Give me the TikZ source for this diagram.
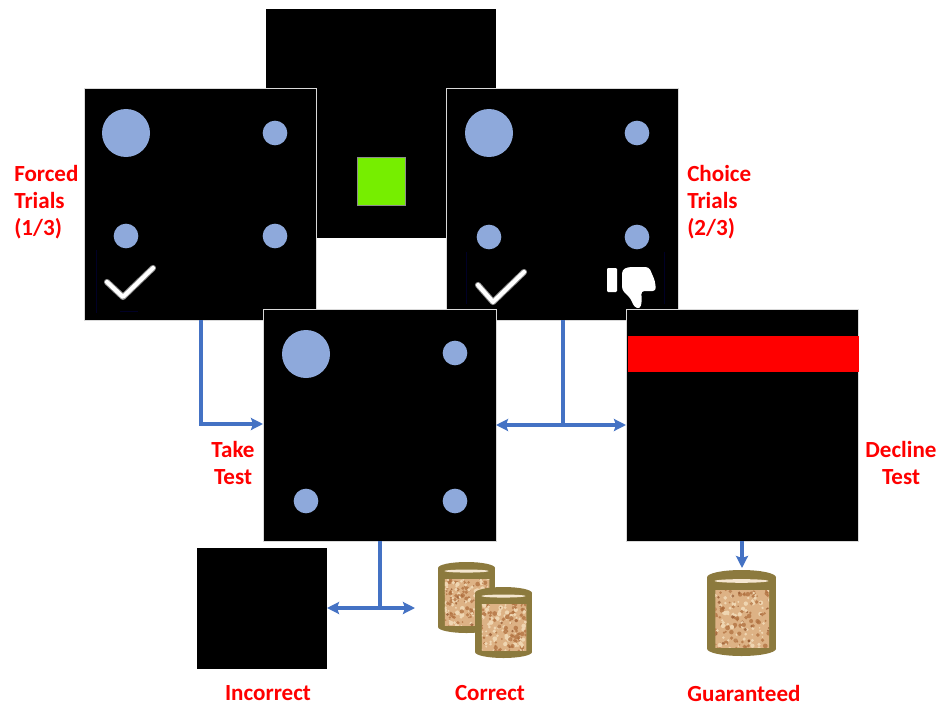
\documentclass[tikz,border=0pt]{standalone}
\usepackage{fontspec}
\setmainfont{Carlito}
\usetikzlibrary{arrows.meta}
\definecolor{dotblue}{HTML}{8EA9DB}
\definecolor{flowblue}{HTML}{4472C4}
\definecolor{lime}{HTML}{76EE00}
\definecolor{olive}{HTML}{8C7A3E}
\definecolor{corkA}{HTML}{DDB285}
\definecolor{corkB}{HTML}{B0703F}
\definecolor{corkC}{HTML}{EFD6B2}
\definecolor{corkD}{HTML}{8E4F28}
\newcommand{\corkpot}[4]{% left, top, width, height
  \pgfmathsetmacro{\potL}{#1}\pgfmathsetmacro{\potT}{#2}\pgfmathsetmacro{\potW}{#3}\pgfmathsetmacro{\potH}{#4}
  \pgfmathsetmacro{\potX}{\potL+\potW/2}\pgfmathsetmacro{\potB}{\potT+\potH}\pgfmathsetmacro{\potR}{\potL+\potW}
  \pgfmathsetmacro{\potRy}{0.085*\potH}
  \pgfmathsetmacro{\potRx}{\potW/2}
  \fill[olive] (\potL,\potT+\potRy) rectangle (\potR,\potB-\potRy);
  \fill[olive] (\potX,\potT+\potRy) ellipse[x radius=\potRx,y radius=\potRy];
  \fill[olive] (\potX,\potB-\potRy) ellipse[x radius=\potRx,y radius=\potRy];
  \fill[corkC!60!white] (\potX,\potT+1.5*\potRy) ellipse[x radius=0.39*\potW,y radius=0.25*\potRy];
  \begin{scope}
    \clip (\potL+0.12*\potW,\potT+0.24*\potH) rectangle (\potR-0.10*\potW,\potB-0.1*\potH);
    \fill[corkA] (\potL,\potT) rectangle (\potR,\potB);
    \pgfmathsetseed{#1}
    \foreach \i in {1,...,170}{
      \pgfmathsetmacro{\px}{\potL+0.1*\potW+rnd*0.8*\potW}
      \pgfmathsetmacro{\py}{\potT+0.22*\potH+rnd*0.7*\potH}
      \pgfmathsetmacro{\pk}{rnd}
      \pgfmathsetmacro{\ps}{0.8+rnd*1.6}
      \ifdim\pk pt<0.45pt \fill[corkC] (\px,\py) circle[radius=\ps];
      \else\ifdim\pk pt<0.9pt \fill[corkB,opacity=.75] (\px,\py) circle[radius=\ps];
      \else \fill[corkD,opacity=.7] (\px,\py) circle[radius=\ps*0.8];\fi\fi
    }
  \end{scope}
}
\tikzset{
  screen/.style={draw=black!15,line width=0.5pt,fill=black,inner sep=0pt,outer sep=0pt,anchor=north west},
  plain/.style={fill=#1,inner sep=0pt,outer sep=0pt,anchor=north west},
  target/.style={fill=dotblue,draw=none,circle,inner sep=0pt,outer sep=0pt,minimum size=#1},
  lblone/.style={text=red,font=\fontsize{17.3}{20.5}\selectfont\bfseries,inner sep=0pt},
  lbl/.style={lblone,align=center},
  lbll/.style={lblone,align=left,anchor=west},
  flow/.style={draw=flowblue,line width=2.5pt},
  flowtip/.style={flow,-{Stealth[length=9pt,width=9pt,inset=1.5pt]}},
  flowboth/.style={flow,{Stealth[length=9pt,width=9pt,inset=1.5pt]}-{Stealth[length=9pt,width=9pt,inset=1.5pt]}},
  iconglow/.style={draw=white!55!black,line width=4.6pt,line cap=round,line join=round},
  iconstroke/.style={draw=white,line width=3.1pt,line cap=round,line join=round},
  faint/.style={draw=black!70!blue,line width=0.5pt,opacity=.5}
}
\begin{document}
\begin{tikzpicture}[x=0.75pt,y=-0.75pt]
\useasboundingbox (0,0) rectangle (941,706);
\fill[white] (0,0) rectangle (941,706);
% top screen
\node[plain=black,minimum width=172.5pt,minimum height=171.75pt] (fix) at (266,9) {};
\node[draw=black!45,line width=0.6pt,fill=lime,minimum size=36pt,inner sep=0pt,outer sep=0pt] (square) at (381,181) {};
% forced
\node[screen,minimum width=174pt,minimum height=174pt] (forced) at (84,88) {};
\node[target=36pt] (fa) at (126,133) {};
\node[target=18.5pt] (fb) at (275,133) {};
\node[target=18.5pt] (fc) at (126,236) {};
\node[target=18.5pt] (fd) at (275,236) {};
\draw[faint] (96,250) -- (96,313) (120,311) -- (138,311);
\draw[iconglow] (107,282) -- (123,297) -- (153,268);
\draw[iconstroke] (107,282) -- (123,297) -- (153,268);
% choice
\node[screen,minimum width=174pt,minimum height=174pt] (choice) at (446,88) {};
\node[target=36pt] (ca) at (489,133) {};
\node[target=18.5pt] (cb) at (637,133) {};
\node[target=18.5pt] (cc) at (489,237) {};
\node[target=18.5pt] (cd) at (637,237) {};
\draw[faint] (466,252) -- (466,304) (664,252) -- (664,304);
\draw[iconglow] (478,285) -- (493,302) -- (524,272);
\draw[iconstroke] (478,285) -- (493,302) -- (524,272);
\fill[white,rounded corners=0.8pt] (607,268) rectangle (617,292);
\fill[white,rounded corners=2.5pt] (622,270) -- (628,267) -- (649,267) -- (655,281) -- (656,291) -- (641,291) -- (642,301) -- (640,309) -- (634,307) -- (631,299) -- (622,290) -- cycle;
% centre
\node[screen,minimum width=174.75pt,minimum height=174pt] (test) at (263,309) {};
\node[target=36pt] (ta) at (306,354) {};
\node[target=18.5pt] (tb) at (455,353) {};
\node[target=18.5pt] (tc) at (306,501) {};
\node[target=18.5pt] (td) at (455,501) {};
% decline
\node[screen,minimum width=174pt,minimum height=174pt] (decline) at (626,309) {};
\node[plain=red,minimum width=173.25pt,minimum height=27pt] (bar) at (628,336) {};
% incorrect
\node[plain=black,minimum width=97.5pt,minimum height=90.75pt] (wrong) at (197,548) {};
% pots
\corkpot{438}{562}{57}{71}
\corkpot{475}{587}{57}{71}
\corkpot{707}{570}{69}{86}
\coordinate (potstwo) at (415,608);
\coordinate (potone) at (742,568);
% connectors
\coordinate (j1) at (201,424);
\coordinate (j2) at (563,425);
\coordinate (j3) at (380,608);
\draw[flow] (forced.south -| j1) -- ([yshift=-1.25pt]j1);
\draw[flowtip] (j1) -- (test.west |- j1);
\draw[flow] (choice.south -| j2) -- (j2);
\draw[flowboth] (test.east |- j2) -- (decline.west |- j2);
\draw[flow] (test.south -| j3) -- (j3);
\draw[flowboth] (wrong.east |- j3) -- (potstwo);
\draw[flowtip] (decline.south -| potone) -- (potone);
% labels
\node[lbll] (l1) at (14,202) {Forced\\Trials\\(1/3)};
\node[lbll] (l2) at (687,202) {Choice\\Trials\\(2/3)};
\node[lbl] (l3) at (233,463) {Take\\Test};
\node[lbl] (l4) at (901,463) {Decline\\Test};
\node[lblone] (l5) at (268,693.5) {Incorrect};
\node[lblone] (l6) at (490,693.5) {Correct};
\node[lblone] (l7) at (744,693.5) {Guaranteed};
\end{tikzpicture}
\end{document}
